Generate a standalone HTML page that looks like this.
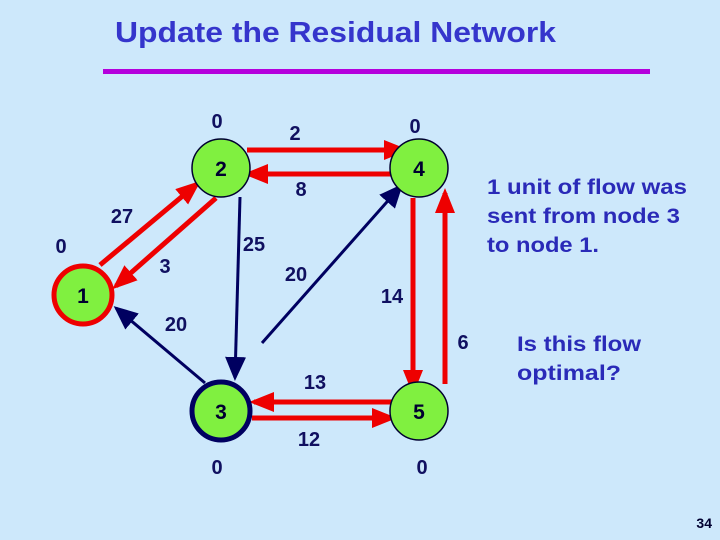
<!DOCTYPE html>
<html><head><style>
body{margin:0;width:720px;height:540px;background:#cde8fb;overflow:hidden}
svg{display:block}
text{font-family:"Liberation Sans",sans-serif;font-weight:bold}
</style></head><body>
<svg width="720" height="540" viewBox="0 0 720 540">
<defs>
<marker id="r" markerWidth="5" markerHeight="5" refX="4" refY="2.5" orient="auto" markerUnits="strokeWidth"><path d="M0,0.5 L5,2.5 L0,4.5z" fill="#ee0000"/></marker>
<marker id="b" markerWidth="8" markerHeight="8" refX="7" refY="4" orient="auto" markerUnits="strokeWidth"><path d="M0,0.5 L8,4 L0,7.5z" fill="#000060"/></marker>
</defs>
<text x="115" y="42" font-size="29" fill="#3535cc" textLength="441" lengthAdjust="spacingAndGlyphs">Update the Residual Network</text>
<rect x="103" y="69" width="547" height="5" fill="#b400dc"/>
<g stroke="#ee0000" stroke-width="5" fill="none">
<line x1="247" y1="150" x2="404" y2="150" marker-end="url(#r)"/>
<line x1="392" y1="174" x2="248" y2="174" marker-end="url(#r)"/>
<line x1="100" y1="265" x2="197" y2="184" marker-end="url(#r)"/>
<line x1="216" y1="198" x2="116" y2="286" marker-end="url(#r)"/>
<line x1="413" y1="198" x2="413" y2="390" marker-end="url(#r)"/>
<line x1="445" y1="384" x2="445" y2="193" marker-end="url(#r)"/>
<line x1="395" y1="402" x2="254" y2="402" marker-end="url(#r)"/>
<line x1="252" y1="418" x2="392" y2="418" marker-end="url(#r)"/>
</g>
<g stroke="#000060" stroke-width="3" fill="none">
<line x1="240" y1="197" x2="235" y2="378" marker-end="url(#b)"/>
<line x1="262" y1="343" x2="401" y2="186" marker-end="url(#b)"/>
<line x1="205" y1="383" x2="116" y2="308" marker-end="url(#b)"/>
</g>
<circle cx="83" cy="295" r="29" fill="#80f040" stroke="#ee0000" stroke-width="5"/>
<circle cx="221" cy="168" r="29" fill="#80f040" stroke="#000030" stroke-width="1.5"/>
<circle cx="419" cy="168" r="29" fill="#80f040" stroke="#000030" stroke-width="1.5"/>
<circle cx="221" cy="411" r="29" fill="#80f040" stroke="#000060" stroke-width="5"/>
<circle cx="419" cy="411" r="29" fill="#80f040" stroke="#000030" stroke-width="1.5"/>
<g font-size="21" fill="#000030" text-anchor="middle">
<text x="83" y="303">1</text><text x="221" y="176">2</text><text x="419" y="176">4</text>
<text x="221" y="419">3</text><text x="419" y="419">5</text>
</g>
<g font-size="20" fill="#101060" text-anchor="middle">
<text x="217" y="128">0</text><text x="415" y="133">0</text><text x="61" y="253">0</text>
<text x="217" y="474">0</text><text x="422" y="474">0</text>
<text x="295" y="140">2</text><text x="301" y="196">8</text>
<text x="122" y="223">27</text><text x="165" y="273">3</text><text x="254" y="251">25</text>
<text x="296" y="281">20</text><text x="392" y="303">14</text><text x="176" y="331">20</text>
<text x="463" y="349">6</text><text x="315" y="389">13</text><text x="309" y="446">12</text>
</g>
<g font-size="21" fill="#2a2ab8">
<text x="487" y="194" textLength="200" lengthAdjust="spacingAndGlyphs">1 unit of flow was</text>
<text x="487" y="223" textLength="193" lengthAdjust="spacingAndGlyphs">sent from node 3</text>
<text x="487" y="252" textLength="112" lengthAdjust="spacingAndGlyphs">to node 1.</text>
<text x="517" y="351" textLength="124" lengthAdjust="spacingAndGlyphs">Is this flow</text>
<text x="517" y="380" textLength="104" lengthAdjust="spacingAndGlyphs">optimal?</text>
</g>
<text x="712" y="528" font-size="14" fill="#000030" text-anchor="end">34</text>
</svg>
</body></html>
